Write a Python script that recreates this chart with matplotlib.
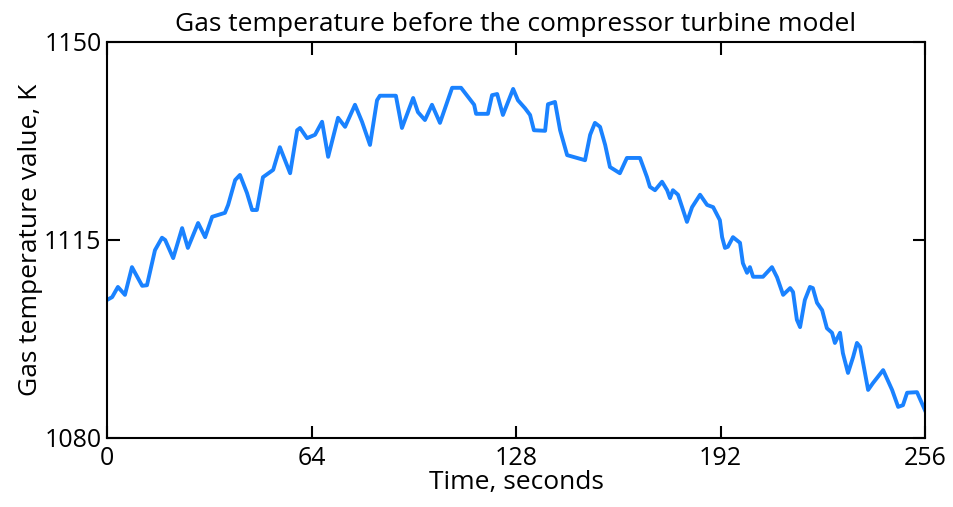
import matplotlib
matplotlib.use("Agg")
import matplotlib.pyplot as plt

# readings
time_s = [0, 1.6, 3.4, 5.6, 7.8, 11.0, 12.5, 15.0, 17.2, 18.2, 20.7, 23.5, 25.3, 28.5,
          30.7, 32.9, 36.9, 37.9, 40.1, 41.6, 43.8, 45.4, 46.9, 48.8, 52.0, 54.1, 57.3,
          59.5, 60.4, 62.6, 65.1, 67.3, 69.2, 72.3, 74.5, 77.6, 79.8, 82.3, 84.5, 85.4,
          90.4, 92.3, 95.8, 97.3, 99.5, 101.7, 104.2, 108.0, 110.8, 114.9, 115.5, 119.2,
          120.5, 122.1, 123.9, 127.1, 128.6, 130.8, 132.4, 133.6, 137.1, 138.0, 140.2,
          141.8, 144.0, 149.6, 151.2, 152.7, 154.3, 155.9, 157.4, 160.5, 162.7, 166.8,
          169.0, 169.9, 171.5, 173.7, 175.3, 176.2, 177.1, 178.7, 181.5, 183.1, 185.6,
          187.8, 189.7, 191.8, 192.5, 193.4, 194.3, 195.9, 198.1, 199.0, 200.3, 201.2,
          202.2, 205.3, 208.1, 209.7, 211.6, 213.8, 214.7, 215.9, 216.9, 218.4, 220.0,
          220.9, 222.2, 223.8, 225.3, 226.9, 227.8, 229.4, 230.3, 231.9, 233.5, 234.7,
          235.7, 237.2, 238.2, 239.7, 242.9, 245.7, 247.6, 249.1, 250.4, 253.5, 256.0]
gas_temp = [1104.4, 1104.9, 1106.7, 1105.3, 1110.2, 1106.9, 1107.0, 1113.2, 1115.4, 1115.0,
            1111.8, 1117.1, 1113.6, 1118.0, 1115.5, 1119.1, 1119.8, 1121.2, 1125.6, 1126.5,
            1123.3, 1120.3, 1120.3, 1126.1, 1127.4, 1131.4, 1126.8, 1134.4, 1134.8, 1133.0,
            1133.6, 1135.9, 1129.7, 1136.6, 1135.0, 1138.9, 1135.9, 1131.8, 1139.7, 1140.5,
            1140.5, 1134.8, 1140.1, 1137.6, 1136.2, 1138.9, 1135.7, 1141.9, 1141.9, 1138.9,
            1137.3, 1137.3, 1140.6, 1140.8, 1137.1, 1141.7, 1139.7, 1138.3, 1137.1, 1134.4,
            1134.3, 1139.0, 1139.4, 1134.4, 1130.0, 1129.1, 1133.6, 1135.7, 1135.0, 1131.8,
            1127.9, 1126.8, 1129.5, 1129.5, 1126.1, 1124.4, 1123.8, 1125.3, 1123.8, 1122.4,
            1123.8, 1123.0, 1118.2, 1120.8, 1123.0, 1121.2, 1120.8, 1118.5, 1115.5, 1113.6,
            1113.8, 1115.5, 1114.5, 1110.9, 1109.2, 1110.2, 1108.5, 1108.5, 1110.2, 1108.4,
            1105.3, 1106.5, 1105.8, 1100.9, 1099.6, 1104.4, 1106.7, 1106.5, 1103.9, 1102.6,
            1099.4, 1098.6, 1096.8, 1098.6, 1095.0, 1091.5, 1094.3, 1096.8, 1096.1, 1091.5,
            1088.5, 1089.7, 1092.0, 1088.5, 1085.5, 1085.8, 1088.0, 1088.1, 1084.9]
x_ticks = [0, 64, 128, 192, 256]
y_ticks = [1080, 1115, 1150]

plt.rcParams['font.family'] = ['Open Sans', 'DejaVu Sans']

fig = plt.figure(figsize=(9.54, 5.07), dpi=100)
ax = fig.add_axes([0.1122, 0.1361, 0.8574, 0.7811])

ax.plot(time_s, gas_temp, color='#1a82ff', linewidth=2.8)

ax.set_xlim(0, 256)
ax.set_ylim(1080, 1150)
ax.set_xticks(x_ticks)
ax.set_yticks(y_ticks)
ax.tick_params(direction='in', length=9, width=1.5, top=True, right=True,
               labelsize=18)
ax.tick_params(axis='x', pad=6)
ax.tick_params(axis='y', pad=4)
for sp in ax.spines.values():
    sp.set_linewidth(1.5)

ax.set_xlabel('Time, seconds', fontsize=19, labelpad=-1)
ax.set_ylabel('Gas temperature value, K', fontsize=19, labelpad=1)
ax.set_title('Gas temperature before the compressor turbine model', fontsize=19, pad=8)

fig.savefig('out.png', dpi=100)
